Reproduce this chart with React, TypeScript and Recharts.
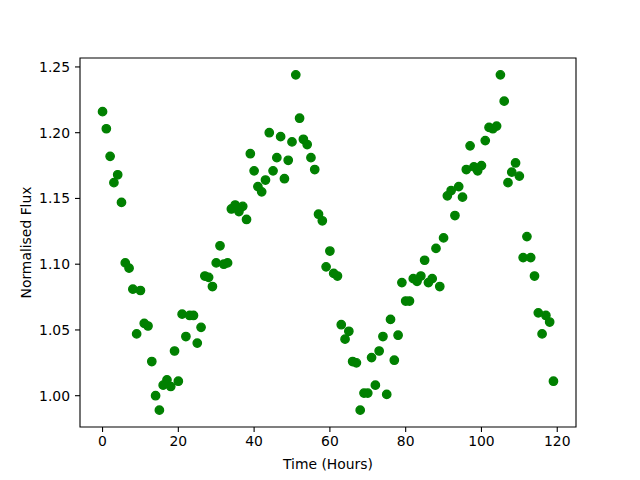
import React from "react";
import {
    ScatterChart,
    Scatter,
    XAxis,
    YAxis,
    ReferenceArea,
} from "recharts";

// normalised flux, one reading per hour starting at hour 0
const flux = [
    1.216, 1.203, 1.182, 1.162, 1.168, 1.147, 1.101, 1.097, 1.081, 1.047,
    1.080, 1.055, 1.053, 1.026, 1.000, 0.989, 1.008, 1.012, 1.007, 1.034,
    1.011, 1.062, 1.045, 1.061, 1.061, 1.040, 1.052, 1.091, 1.090, 1.083,
    1.101, 1.114, 1.100, 1.101, 1.142, 1.145, 1.140, 1.144, 1.134, 1.184,
    1.171, 1.159, 1.155, 1.164, 1.200, 1.171, 1.181, 1.197, 1.165, 1.179,
    1.193, 1.244, 1.211, 1.195, 1.191, 1.181, 1.172, 1.138, 1.133, 1.098,
    1.110, 1.093, 1.091, 1.054, 1.043, 1.049, 1.026, 1.025, 0.989, 1.002,
    1.002, 1.029, 1.008, 1.034, 1.045, 1.001, 1.058, 1.027, 1.046, 1.086,
    1.072, 1.072, 1.089, 1.087, 1.091, 1.103, 1.086, 1.089, 1.112, 1.083,
    1.120, 1.152, 1.156, 1.137, 1.159, 1.151, 1.172, 1.190, 1.174, 1.171,
    1.175, 1.194, 1.204, 1.203, 1.205, 1.244, 1.224, 1.162, 1.170, 1.177,
    1.167, 1.105, 1.121, 1.105, 1.091, 1.063, 1.047, 1.061, 1.056, 1.011,
];

const xTicks = [0, 20, 40, 60, 80, 100, 120];
const yTicks = [1.0, 1.05, 1.1, 1.15, 1.2, 1.25];

const X_DOMAIN: [number, number] = [-5.95, 124.95];
const Y_DOMAIN: [number, number] = [0.9762, 1.2568];

const tickStyle = { fill: "#000", fontSize: 13.9, fontFamily: "DejaVu Sans" };

export default function App() {
    const data = flux.map((v, hour) => ({ hour, flux: v }));

    return (
        <div style={{ position: "absolute", left: 0, top: 0, width: 640, height: 480, background: "#fff" }}>
            <ScatterChart width={640} height={480} margin={{ top: 58, right: 64, bottom: 0, left: 0 }}>
                <XAxis
                    type="number"
                    dataKey="hour"
                    domain={X_DOMAIN}
                    ticks={xTicks}
                    allowDataOverflow
                    height={53}
                    axisLine={false}
                    tickLine={{ stroke: "#000", strokeWidth: 1.1 }}
                    tickSize={5}
                    tickMargin={4}
                    tick={tickStyle}
                    label={{
                        value: "Time (Hours)",
                        position: "insideBottom",
                        offset: 11,
                        style: { fill: "#000", fontSize: 13.9, fontFamily: "DejaVu Sans" },
                    }}
                />
                <YAxis
                    type="number"
                    dataKey="flux"
                    domain={Y_DOMAIN}
                    ticks={yTicks}
                    allowDataOverflow
                    width={80}
                    axisLine={false}
                    tickLine={{ stroke: "#000", strokeWidth: 1.1 }}
                    tickSize={5}
                    tickMargin={5}
                    tick={tickStyle}
                    tickFormatter={(v: number) => v.toFixed(2)}
                    label={{
                        value: "Normalised Flux",
                        angle: -90,
                        position: "insideLeft",
                        offset: 26,
                        style: { textAnchor: "middle", fill: "#000", fontSize: 13.9, fontFamily: "DejaVu Sans" },
                    }}
                />
                <Scatter
                    data={data}
                    isAnimationActive={false}
                    shape={(p: any) => (
                        <circle cx={p.cx} cy={p.cy} r={4.17} fill="#008000" stroke="#008000" strokeWidth={1.39} />
                    )}
                />
                {/* frame, matplotlib style */}
                <ReferenceArea
                    x1={X_DOMAIN[0]}
                    x2={X_DOMAIN[1]}
                    y1={Y_DOMAIN[0]}
                    y2={Y_DOMAIN[1]}
                    ifOverflow="visible"
                    fill="none"
                    fillOpacity={0}
                    stroke="#000"
                    strokeWidth={1.1}
                />
            </ScatterChart>
        </div>
    );
}
